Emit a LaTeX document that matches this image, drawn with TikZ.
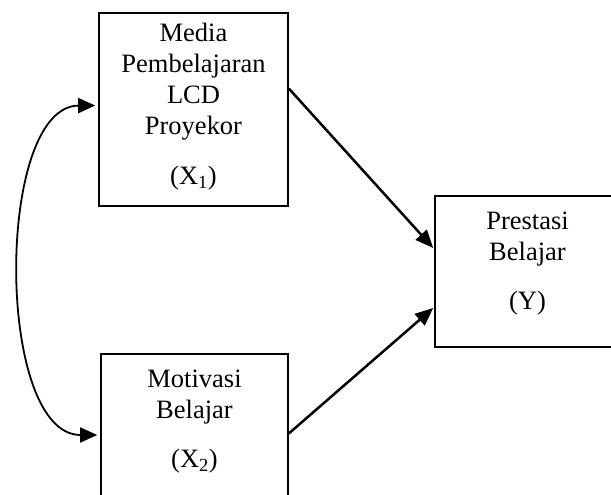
\documentclass[tikz,border=0pt]{standalone}
\usepackage{fontspec}
\setmainfont{Liberation Serif}
\usetikzlibrary{arrows.meta}
\begin{document}
\begin{tikzpicture}[
  box/.style={draw, line width=1.6pt, rectangle, inner sep=0pt, align=center,
    font=\fontsize{26.5}{31}\selectfont},
  link/.style={line width=2.5pt, -{Triangle[length=18pt,width=15pt]}},
  corr/.style={line width=1.8pt, {Triangle[length=17pt,width=15pt]}-{Triangle[length=17pt,width=15pt]}}
]
\useasboundingbox (0pt,0pt) rectangle (611pt,-495pt);
\node[box, minimum width=189pt, minimum height=193pt] (x1) at (193.5pt,-109.5pt)
  {Media\\Pembelajaran\\LCD\\Proyekor\\[19pt](X\textsubscript{1})\rule[-11pt]{0pt}{11pt}};
\node[box, minimum width=187pt, minimum height=151pt] (x2) at (194.5pt,-429.5pt)
  {Motivasi\\Belajar\\[18pt](X\textsubscript{2})\rule[-21pt]{0pt}{21pt}};
\node[box, minimum width=185pt, minimum height=151pt] (y) at (527.5pt,-271.5pt)
  {Prestasi\\Belajar\\[18pt](Y)\rule[-21pt]{0pt}{21pt}};
\draw[link] ([yshift=21pt]x1.east) -- ([yshift=23.5pt,xshift=-1pt]y.west);
\draw[link] ([yshift=-4pt]x2.east) -- ([yshift=-36.5pt,xshift=-1pt]y.west);
\draw[corr] ([yshift=4pt,xshift=-3pt]x1.west) .. controls (-5pt,-106pt) and (-5pt,-435pt) .. ([xshift=-3pt,yshift=-5.5pt]x2.west);
\end{tikzpicture}
\end{document}
